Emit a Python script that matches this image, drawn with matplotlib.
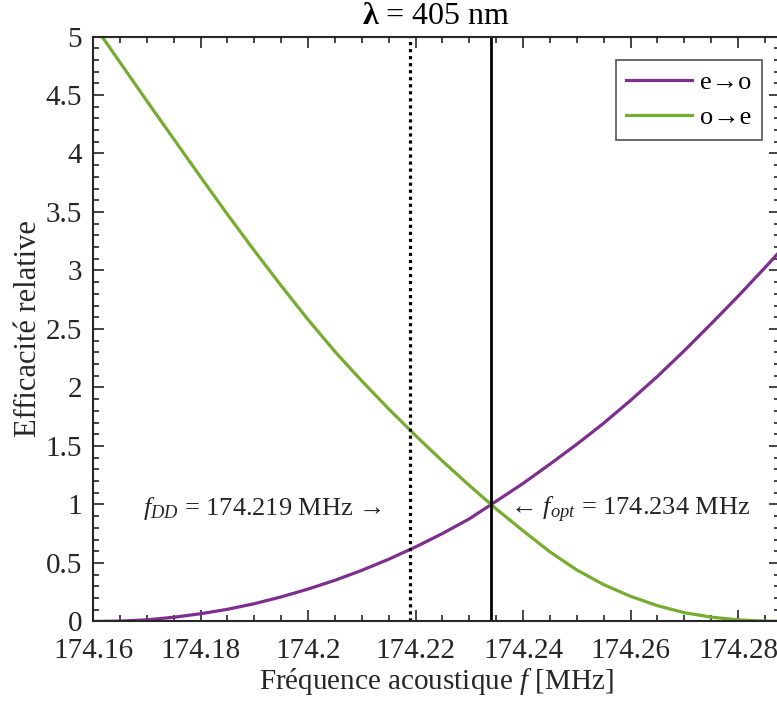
import numpy as np
import matplotlib
matplotlib.use("Agg")
import matplotlib.pyplot as plt
from matplotlib.ticker import MultipleLocator

plt.rcParams["font.family"] = ["Liberation Serif", "DejaVu Serif"]
plt.rcParams["mathtext.fontset"] = "custom"
plt.rcParams["mathtext.rm"] = "Liberation Serif"
plt.rcParams["mathtext.it"] = "Liberation Serif:italic"
plt.rcParams["mathtext.bf"] = "Liberation Serif:bold"

# fréquences acoustiques (MHz)
frequence = [174.160, 174.165, 174.170, 174.175, 174.180, 174.185, 174.190,
             174.195, 174.200, 174.205, 174.210, 174.215, 174.220, 174.225,
             174.230, 174.235, 174.240, 174.245, 174.250, 174.255, 174.260,
             174.265, 174.270, 174.275, 174.280, 174.285, 174.2878]

# efficacité relative e->o
eff_eo = [0.000, 0.003, 0.014, 0.036, 0.066, 0.104, 0.152,
          0.210, 0.277, 0.352, 0.437, 0.532, 0.637, 0.752,
          0.877, 1.028, 1.180, 1.345, 1.515, 1.695, 1.890,
          2.095, 2.315, 2.545, 2.780, 3.025, 3.165]

# efficacité relative o->e
eff_oe = [5.110, 4.780, 4.450, 4.125, 3.800, 3.480, 3.170,
          2.870, 2.580, 2.307, 2.056, 1.817, 1.589, 1.371,
          1.163, 0.962, 0.775, 0.595, 0.440, 0.315, 0.215,
          0.135, 0.075, 0.037, 0.014, 0.003, 0.002]

f_dd = 174.219
f_opt = 174.234

xticks = [174.16, 174.18, 174.20, 174.22, 174.24, 174.26, 174.28]
xtick_labels = ["174.16", "174.18", "174.2", "174.22", "174.24", "174.26", "174.28"]
yticks = [0, 0.5, 1, 1.5, 2, 2.5, 3, 3.5, 4, 4.5, 5]
ytick_labels = ["0", "0.5", "1", "1.5", "2", "2.5", "3", "3.5", "4", "4.5", "5"]

gris = "#262626"
violet = "#7E2F8E"
vert = "#77AC30"

fig = plt.figure(figsize=(7.77, 7.02), dpi=100)
ax = fig.add_axes([0.1197, 0.1147, 0.8842, 0.8333])

ax.plot(frequence, eff_eo, color=violet, lw=2.3, label="e→o")
ax.plot(frequence, eff_oe, color=vert, lw=2.3, label="o→e")
ax.axvline(f_dd, color="black", lw=2.3, ls=(0, (1, 1.2)))
ax.axvline(f_opt, color="black", lw=2.0)

ax.set_xlim(174.16, 174.2878)
ax.set_ylim(0, 5)
ax.set_xticks(xticks)
ax.set_xticklabels(xtick_labels)
ax.set_yticks(yticks)
ax.set_yticklabels(ytick_labels)
ax.xaxis.set_minor_locator(MultipleLocator(0.005))
ax.yaxis.set_minor_locator(MultipleLocator(0.1))
ax.tick_params(which="both", direction="in", top=True, right=True,
               colors=gris, labelsize=21, width=1.2)
ax.tick_params(which="major", length=8)
ax.tick_params(which="minor", length=4)
ax.tick_params(axis="x", which="major", pad=12)
ax.tick_params(axis="y", which="major", pad=8)
for s in ax.spines.values():
    s.set_color(gris)
    s.set_linewidth(1.5)

ax.text(174.2138, 0.91, r"$f_{DD}$ = 174.219 MHz →", ha="right",
        va="baseline", fontsize=19, color=gris)
ax.text(174.2376, 0.91, r"← $f_{opt}$ = 174.234 MHz", ha="left",
        va="baseline", fontsize=19, color=gris)

ax.set_xlabel(r"Fréquence acoustique $f$ [MHz]", fontsize=21, color=gris, labelpad=1)
ax.set_ylabel("Efficacité relative", fontsize=22, color=gris, labelpad=2)
ax.set_title(r"$\mathbf{λ}$ = 405 nm", fontsize=23, color="black", pad=9)

leg = ax.legend(loc="upper right", bbox_to_anchor=(0.974, 0.96), fontsize=19,
                frameon=True, fancybox=False, handlelength=2.5, borderpad=0.4,
                labelspacing=0.45, handletextpad=0.3, borderaxespad=0)
leg.get_frame().set_edgecolor(gris)
leg.get_frame().set_linewidth(1.2)

fig.savefig("out.png", dpi=100)
